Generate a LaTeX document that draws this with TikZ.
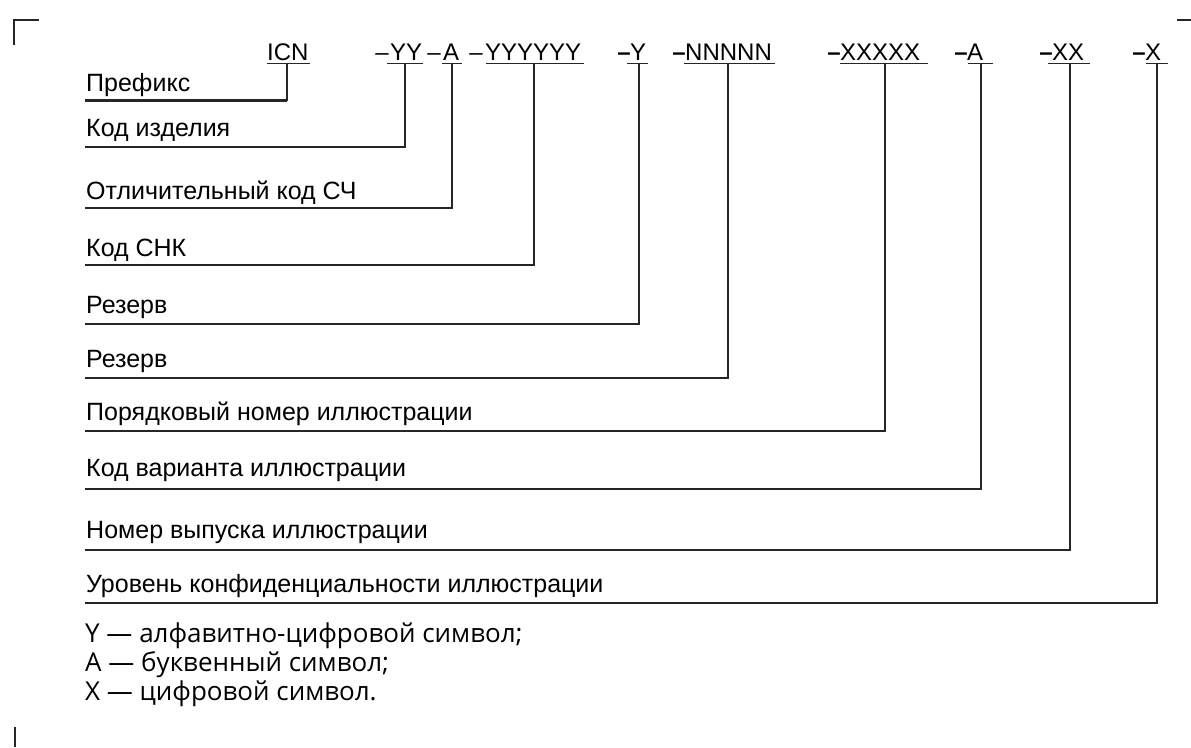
\documentclass[tikz,border=0pt]{standalone}
\usepackage{fontspec}
\setmainfont{Liberation Sans}
\newfontfamily\legendfont{Open Sans}
\begin{document}
\begin{tikzpicture}[x=1pt,y=-1pt,
  lbl/.style={anchor=base west,inner sep=0pt,font=\fontsize{25}{29}\selectfont},
  code/.style={anchor=base west,inner sep=0pt,font=\fontsize{24}{28}\selectfont},
  thindash/.style={anchor=base east,inner sep=0pt,font=\fontsize{24}{28}\selectfont},
  bolddash/.style={anchor=base east,inner sep=0pt,font=\fontsize{24}{28}\selectfont\bfseries},
  legend/.style={anchor=base west,inner sep=0pt,font=\legendfont\fontsize{26}{30}\selectfont},
  uline/.style={line width=1.6pt,draw=black!85},
  conn/.style={line width=1.8pt,draw=black!85,line join=miter},
  corner/.style={line width=1.8pt,draw=black!85}]
\useasboundingbox (0,0) rectangle (1191,747);

% corner marks
\draw[corner] (14,45) -- (14,20) -- (39,20);
\draw[corner] (1177,20) -- (1191,20);
\draw[corner] (15,727) -- (15,747);

% code elements
\node[code] (cICN) at (267,60) {ICN};
\node[code] (cYY) at (390,60) {YY};
\node[thindash] (dYY) at (389,60) {–};
\node[code] (cA) at (443,60) {A};
\node[thindash] (dA) at (441,60) {–};
\node[code] (cY6) at (485,60) {YYYYYY};
\node[thindash] (dY6) at (483,60) {–};
\node[code] (cY) at (630,60) {Y};
\node[bolddash] (dY) at (631,60) {–};
\node[code] (cN) at (685,60) {NNNNN};
\node[bolddash] (dN) at (686,60) {–};
\node[code] (cX5) at (840,60) {XXXXX};
\node[bolddash] (dX5) at (841,60) {–};
\node[code] (cA2) at (967,60) {A};
\node[bolddash] (dA2) at (968,60) {–};
\node[code] (cXX) at (1052,60) {XX};
\node[bolddash] (dXX) at (1053,60) {–};
\node[code] (cX) at (1145,60) {X};
\node[bolddash] (dX) at (1146,60) {–};

% underlines
\draw[uline] (267,63.5) -- (310,63.5);
\draw[uline] (387,63.5) -- (423,63.5);
\draw[uline] (442,63.5) -- (462,63.5);
\draw[uline] (486,63.5) -- (584,63.5);
\draw[uline] (627,63.5) -- (648,63.5);
\draw[uline] (684,63.5) -- (775,63.5);
\draw[uline] (840,63.5) -- (928,63.5);
\draw[uline] (968,63.5) -- (993,63.5);
\draw[uline] (1048,63.5) -- (1090,63.5);
\draw[uline] (1146,63.5) -- (1168,63.5);

% connector start points on the underlines
\coordinate (uICN) at (287,63.5);
\coordinate (uYY) at (405,63.5);
\coordinate (uA) at (452,63.5);
\coordinate (uY6) at (534,63.5);
\coordinate (uY) at (639,63.5);
\coordinate (uN) at (728,63.5);
\coordinate (uX5) at (885,63.5);
\coordinate (uA2) at (981,63.5);
\coordinate (uXX) at (1070,63.5);
\coordinate (uX) at (1157,63.5);

% labels
\node[lbl] (l1) at (86,91) {Префикс};
\node[lbl] (l2) at (86,136) {Код изделия};
\node[lbl] (l3) at (86,199) {Отличительный код СЧ};
\node[lbl] (l4) at (86,256) {Код СНК};
\node[lbl] (l5) at (86,313) {Резерв};
\node[lbl] (l6) at (86,367) {Резерв};
\node[lbl] (l7) at (86,420) {Порядковый номер иллюстрации};
\node[lbl] (l8) at (86,476) {Код варианта иллюстрации};
\node[lbl] (l9) at (86,538) {Номер выпуска иллюстрации};
\node[lbl] (l10) at (86,592) {Уровень конфиденциальности иллюстрации};

% line ends at the left
\coordinate (e1) at (85,100);
\coordinate (e2) at (85,147);
\coordinate (e3) at (85,208);
\coordinate (e4) at (85,265);
\coordinate (e5) at (85,324);
\coordinate (e6) at (85,378);
\coordinate (e7) at (85,431);
\coordinate (e8) at (85,489);
\coordinate (e9) at (85,550);
\coordinate (e10) at (85,603);

% connectors
\draw[conn] (uICN) |- (e1);
\draw[conn,line width=3pt] (e1) -- (uICN |- e1);
\draw[conn] (uYY) |- (e2);
\draw[conn] (uA) |- (e3);
\draw[conn] (uY6) |- (e4);
\draw[conn] (uY) |- (e5);
\draw[conn] (uN) |- (e6);
\draw[conn] (uX5) |- (e7);
\draw[conn] (uA2) |- (e8);
\draw[conn] (uXX) |- (e9);
\draw[conn] (uX) |- (e10);

% legend
\node[legend] (g1) at (85,642) {Y — алфавитно-цифровой символ;};
\node[legend] (g2) at (85,671) {А — буквенный символ;};
\node[legend] (g3) at (85,700) {X — цифровой символ.};
\end{tikzpicture}
\end{document}
